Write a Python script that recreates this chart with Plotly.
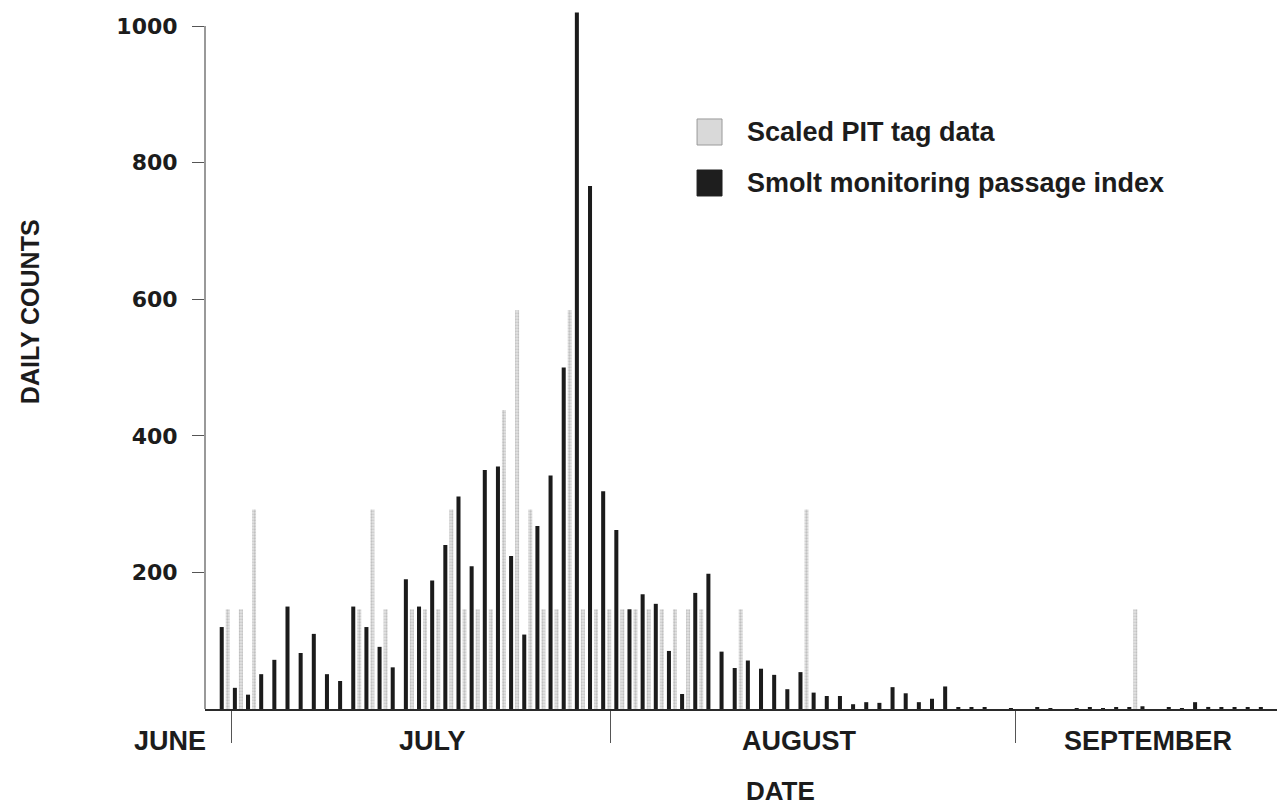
import plotly.graph_objects as go

# Daily counts, one entry per day starting 30 June
day_number = list(range(80))

smolt_index = [
    120, 31, 21, 51, 72, 150, 82, 110, 51, 41,
    150, 120, 91, 61, 190, 150, 188, 240, 311, 209,
    350, 355, 224, 109, 268, 342, 500, 1020, 766, 319,
    262, 146, 168, 154, 85, 22, 170, 198, 84, 60,
    71, 59, 50, 29, 54, 24, 19, 19, 7, 10,
    9, 32, 23, 10, 15, 33, 2, 2, 2, 0,
    1, 0, 2, 1, 0, 1, 2, 1, 2, 2,
    4, 0, 2, 1, 10, 3, 2, 2, 2, 2,
]

pit_scaled = [
    146, 146, 292, 0, 0, 0, 0, 0, 0, 0,
    146, 292, 146, 0, 146, 146, 146, 292, 146, 146,
    146, 438, 584, 292, 146, 146, 584, 146, 146, 146,
    146, 146, 146, 146, 146, 146, 146, 0, 0, 146,
    0, 0, 0, 0, 292, 0, 0, 0, 0, 0,
    0, 0, 0, 0, 0, 0, 0, 0, 0, 0,
    0, 0, 0, 0, 0, 0, 0, 0, 0, 146,
    0, 0, 0, 0, 0, 0, 0, 0, 0, 0,
]

month_names = ["JUNE", "JULY", "AUGUST", "SEPTEMBER"]
month_label_pos = [-4.1, 15.8, 43.7, 70.2]
month_breaks = [0.55, 29.3, 60.1]
y_ticks = [200, 400, 600, 800, 1000]

LABEL_FONT = dict(family="Liberation Sans, Arial, sans-serif", size=27, color="#1c1c1c")

fig = go.Figure()

fig.add_trace(go.Bar(
    x=day_number, y=smolt_index, name="Smolt monitoring passage index",
    marker=dict(color="#1b1b1b", line=dict(width=0)),
))
fig.add_trace(go.Bar(
    x=day_number, y=pit_scaled, name="Scaled PIT tag data",
    marker=dict(color="#e4e4e4", line=dict(width=0),
                pattern=dict(shape=".", fgcolor="#9c9c9c", size=3, solidity=0.45)),
))

fig.update_layout(
    width=1277, height=806,
    margin=dict(l=205, r=0, t=9, b=97),
    paper_bgcolor="white", plot_bgcolor="white",
    barmode="group", bargap=0.087, bargroupgap=0.33,
    showlegend=False,
    xaxis=dict(
        range=[-1.5, 80.0], showgrid=False, zeroline=False,
        showline=True, linecolor="#2a2a2a", linewidth=2,
        tickmode="array", tickvals=month_breaks, ticktext=["", "", ""],
        ticks="outside", ticklen=32, tickwidth=1.2, tickcolor="#555",
        showticklabels=False,
    ),
    yaxis=dict(
        range=[0, 1025], showgrid=False, zeroline=False, showline=False,
        tickmode="array", tickvals=y_ticks,
        ticks="outside", ticklen=12, tickwidth=1.2, tickcolor="#555",
        ticklabelstandoff=10,
        tickfont=dict(family="DejaVu Sans, sans-serif", size=22, color="#1c1c1c", weight="bold"),
    ),
)

# vertical axis line up to the top tick
fig.add_shape(type="line", xref="paper", yref="y", x0=0, x1=0, y0=0, y1=1000,
              line=dict(color="#555", width=1.2))

# month names along the date axis
for name, pos in zip(month_names, month_label_pos):
    if name == "JUNE":
        fig.add_annotation(x=-0.0326, xref="paper", y=-0.0457, yref="paper",
                           text=name, showarrow=False, font=dict(**LABEL_FONT, weight="bold"),
                           xanchor="center", yanchor="middle")
    else:
        fig.add_annotation(x=pos, xref="x", y=-0.0457, yref="paper",
                           text=name, showarrow=False, font=dict(**LABEL_FONT, weight="bold"),
                           xanchor="center", yanchor="middle")

# axis titles
fig.add_annotation(x=0.5364, xref="paper", y=-0.117, yref="paper", text="DATE",
                   showarrow=False,
                   font=dict(family="Liberation Sans, Arial, sans-serif", size=26,
                             color="#1c1c1c", weight="bold"),
                   xanchor="center", yanchor="middle")
fig.add_annotation(x=-0.1632, xref="paper", y=0.567, yref="paper", text="DAILY COUNTS",
                   showarrow=False, textangle=-90,
                   font=dict(family="Liberation Sans, Arial, sans-serif", size=25,
                             color="#1c1c1c", weight="bold"),
                   xanchor="center", yanchor="middle")

# key
fig.add_shape(type="rect", xref="paper", yref="paper", x0=0.459, x1=0.4823, y0=0.8057, y1=0.8429,
              fillcolor="#d9d9d9", line=dict(color="#9a9a9a", width=1))
fig.add_shape(type="rect", xref="paper", yref="paper", x0=0.459, x1=0.4823, y0=0.7329, y1=0.77,
              fillcolor="#1e1e1e", line=dict(color="#1e1e1e", width=1))
fig.add_annotation(x=0.5037, xref="paper", y=0.8243, yref="paper", text="Scaled PIT tag data",
                   showarrow=False, xanchor="left", yanchor="middle",
                   font=dict(family="Liberation Sans, Arial, sans-serif", size=27,
                             color="#1c1c1c", weight="bold"))
fig.add_annotation(x=0.5037, xref="paper", y=0.7514, yref="paper",
                   text="Smolt monitoring passage index",
                   showarrow=False, xanchor="left", yanchor="middle",
                   font=dict(family="Liberation Sans, Arial, sans-serif", size=27,
                             color="#1c1c1c", weight="bold"))

fig.write_html("out.html")
